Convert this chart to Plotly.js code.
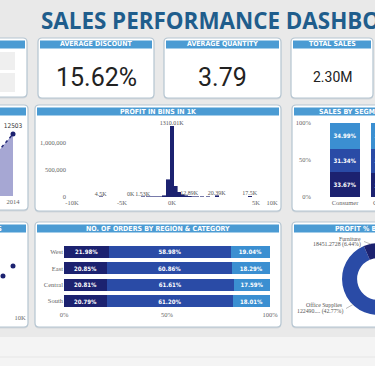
<!DOCTYPE html>
<html><head><meta charset="utf-8">
<script src="https://cdn.plot.ly/plotly-3.0.1.min.js"></script>
<style>
html,body{margin:0;padding:0;overflow:hidden;width:375px;height:366px;background:#e9e9e9}
#chart{position:absolute;left:-60px;top:0;width:535px;height:366px}
</style></head><body><div id="chart"></div>
<script>
// ---------- DATA ----------
const kpiTitles = ['AVERAGE DISCOUNT', 'AVERAGE QUANTITY', 'TOTAL SALES'];
const avgDiscount = 15.62;     // %
const avgQuantity = 3.79;
const totalSales = 2300000;

const years = [2011, 2012, 2013, 2014];
const qtyByYear = [7580, 7980, 9850, 12503];

const binCenters = [-7.1, -4.1, -2.9, -2.4, -2.0, -1.6, -1.2, -0.8, -0.4, 0, 0.35, 0.7, 1.05, 1.4, 1.75, 2.1, 2.5, 3.0, 3.6, 4.5, 7.8];
const binSales = [4500, 4, 1530, 3000, 5000, 6000, 9000, 25000, 315000, 1310010, 200000, 90000, 45000, 20000, 12890, 8000, 5000, 4000, 6000, 20390, 17500];
const binLabels = ['4.5K', '0K', '1.53K', '', '', '', '', '', '', '1310.01K', '', '', '', '', '12.89K', '', '', '', '', '20.39K', '17.5K'];
const profitTickVals = [-10, -5, 0, 8.4, 10];
const profitTickText = ['-10K', '-5K', '0K', '5K', '10K'];
const salesTickVals = [0, 500000, 1000000];
const salesTickText = ['0', '500,000', '1,000,000'];

const segments = ['Consumer', 'Corporate', 'Home Office'];
const segFurniture = [33.67, 32.43, 28.38];
const segOffice = [31.34, 32.67, 29.00];
const segTechnology = [34.99, 34.90, 42.62];

const regions = ['West', 'East', 'Central', 'South'];
const regFurniture = [21.98, 20.85, 20.81, 20.79];
const regOffice = [58.98, 60.86, 61.61, 61.20];
const regTechnology = [19.04, 18.29, 17.59, 18.01];
const pctTickVals = [0, 50, 100];
const pctTickText = ['0%', '50%', '100%'];

const scSales = [1500, 3200, 4800, 7570, 9000];
const scProfit = [1200, 2500, 1800, 3600, 4600];
const scTickVals = [0, 5000, 10000];
const scTickText = ['0K', '5K', '10K'];

const categories = ['Technology', 'Office Supplies', 'Furniture'];
const profitByCat = [145454.9481, 122490.8008, 18451.2728];

// ---------- HELPERS ----------
const W = 535, H = 366, OX = 60;
const X = px => (px + OX) / W;
const Y = py => 1 - py / H;
const NAVY = '#1c2270', ROYAL = '#2a4ba6', SKY = '#3b8fd1', HEAD = '#4b9bd3';
const tickFont = {family: 'Liberation Serif', size: 6.5, color: '#666'};

function roundRect(x0, y0, x1, y1, r, fill, lc, lw) {
  const p = `M${X(x0+r)},${Y(y0)} L${X(x1-r)},${Y(y0)} Q${X(x1)},${Y(y0)} ${X(x1)},${Y(y0+r)} L${X(x1)},${Y(y1-r)} Q${X(x1)},${Y(y1)} ${X(x1-r)},${Y(y1)} L${X(x0+r)},${Y(y1)} Q${X(x0)},${Y(y1)} ${X(x0)},${Y(y1-r)} L${X(x0)},${Y(y0+r)} Q${X(x0)},${Y(y0)} ${X(x0+r)},${Y(y0)} Z`;
  return {type: 'path', xref: 'paper', yref: 'paper', path: p, fillcolor: fill, line: {color: lc, width: lw}, layer: 'below'};
}
function rect(x0, y0, x1, y1, fill) {
  return {type: 'rect', xref: 'paper', yref: 'paper', x0: X(x0), x1: X(x1), y0: Y(y1), y1: Y(y0), fillcolor: fill, line: {width: 0}, layer: 'below'};
}
function seg(x0, y0, x1, y1, color, w) {
  return {type: 'line', xref: 'paper', yref: 'paper', x0: X(x0), x1: X(x1), y0: Y(y0), y1: Y(y1), line: {color: color, width: w}, layer: 'above'};
}
function ann(text, px, py, opts) {
  return Object.assign({text: text, x: X(px), y: Y(py), xref: 'paper', yref: 'paper', showarrow: false, xanchor: 'center', yanchor: 'middle'}, opts || {});
}
const headFont = {family: 'DejaVu Sans Condensed', size: 7, color: '#ffffff'};

// ---------- SHAPES ----------
const cards = [
  [-60, 38, 27, 97], [38, 38, 154, 98], [164, 38, 281, 98], [291, 38, 373, 98],
  [-60, 105, 28, 210], [35, 105, 281, 211], [292, 105, 470, 211],
  [-60, 222, 28, 327], [35, 222, 281, 327], [292, 222, 470, 327]
];
const shapes = [];
shapes.push(rect(-60, 337, 475, 366, '#f4f4f4'));
const sep = seg(-60, 357, 475, 357, '#e6e6e6', 1); sep.layer = 'below'; shapes.push(sep);
cards.forEach(c => shapes.push(roundRect(c[0], c[1] + 1.5, c[2], c[3] + 1.5, 4, '#d3d7db', 'rgba(0,0,0,0)', 0)));
cards.forEach(c => {
  shapes.push(roundRect(c[0], c[1], c[2], c[3], 4, '#ffffff', '#b5c5d1', 1.2));
  shapes.push(rect(c[0] + 2, c[1] + 2.5, c[2] - 2, c[1] + 10.5, HEAD));
});
// slicer boxes
shapes.push(rect(-50, 52, 15, 70, '#efefef'));
shapes.push(rect(-50, 73, 15, 92, '#efefef'));
// donut connectors
shapes.push(seg(364, 241.5, 370.5, 244, '#aaaaaa', 0.8));
shapes.push(seg(346, 308.5, 353, 304.5, '#aaaaaa', 0.8));

// ---------- ANNOTATIONS ----------
const fmtPct = v => v.toFixed(2) + '%';
const totalProfit = profitByCat.reduce((a, b) => a + b, 0);
const lblFont = {family: 'Liberation Serif', size: 5.8, color: '#555'};
const annotations = [
  ann('<b>SALES PERFORMANCE DASHBOARD</b>', 39, 20.5, {xanchor: 'left', font: {family: 'Open Sans', size: 22.4, color: '#1f5d8c'}}),
  ann('<b>' + kpiTitles[0] + '</b>', 96, 44.5, {font: headFont}),
  ann('<b>' + kpiTitles[1] + '</b>', 222, 44.5, {font: headFont}),
  ann('<b>' + kpiTitles[2] + '</b>', 332, 44.5, {font: headFont}),
  ann(avgDiscount.toFixed(2) + '%', 96.5, 77, {font: {family: 'Roboto', size: 25, color: '#222'}}),
  ann(avgQuantity.toFixed(2), 222.5, 77, {font: {family: 'Roboto', size: 25, color: '#222'}}),
  ann((totalSales / 1e6).toFixed(2) + 'M', 333, 77, {font: {family: 'Roboto', size: 14, color: '#222'}}),
  ann('<b>PROFIT IN BINS IN 1K</b>', 158, 112.5, {font: headFont}),
  ann('<b>SALES BY SEGMENT</b>', 317, 112.5, {xanchor: 'left', font: headFont}),
  ann('<b>NO. OF ORDERS BY REGION &amp; CATEGORY</b>', 158, 228.5, {font: headFont}),
  ann('<b>PROFIT % BY CATEGORY</b>', 333, 228.5, {xanchor: 'left', font: headFont}),
  ann('<b>PROFIT VS SALES</b>', 4, 228.5, {xanchor: 'right', font: headFont}),
  ann(categories[2], 363, 238.5, {xanchor: 'right', font: lblFont}),
  ann(profitByCat[2].toFixed(4) + ' (' + fmtPct(profitByCat[2] / totalProfit * 100) + ')', 363, 244.5, {xanchor: 'right', font: lblFont}),
  ann(categories[1], 345, 305, {xanchor: 'right', font: lblFont}),
  ann(Math.floor(profitByCat[1]) + '.... (' + fmtPct(profitByCat[1] / totalProfit * 100) + ')', 345, 311.5, {xanchor: 'right', font: lblFont})
];

// ---------- TRACES ----------
const inFont = {family: 'DejaVu Sans Condensed', size: 6, color: '#ffffff'};
const traces = [];
traces.push({type: 'scatter', x: years, y: qtyByYear, xaxis: 'x', yaxis: 'y', mode: 'lines+markers+text',
  fill: 'tozeroy', fillcolor: '#a6a7d3', line: {color: '#262b78', width: 1.5, dash: 'dot'},
  marker: {size: 5, color: NAVY}, text: qtyByYear.map(String), textposition: 'top center',
  textfont: {family: 'DejaVu Sans Condensed', size: 6.5, color: '#333'}, cliponaxis: false, hoverinfo: 'skip'});
traces.push({type: 'bar', x: binCenters, y: binSales, xaxis: 'x2', yaxis: 'y2', width: 0.35,
  marker: {color: NAVY, line: {color: NAVY, width: 0.6}}, text: binLabels, textposition: 'outside',
  textfont: {family: 'Liberation Serif', size: 6, color: '#555'}, constraintext: 'none', cliponaxis: false});
[[segFurniture, NAVY], [segOffice, ROYAL], [segTechnology, SKY]].forEach(d => {
  traces.push({type: 'bar', x: segments, y: d[0], xaxis: 'x3', yaxis: 'y3', width: 0.73, marker: {color: d[1]},
    text: d[0].map(fmtPct), texttemplate: '<b>%{text}</b>', textposition: 'inside', insidetextanchor: 'middle',
    textfont: inFont, constraintext: 'none'});
});
[[regFurniture, NAVY], [regOffice, ROYAL], [regTechnology, SKY]].forEach(d => {
  traces.push({type: 'bar', orientation: 'h', x: d[0], y: regions, xaxis: 'x4', yaxis: 'y4', width: 0.73, marker: {color: d[1]},
    text: d[0].map(fmtPct), texttemplate: '<b>%{text}</b>', textposition: 'inside', insidetextanchor: 'middle',
    textfont: inFont, constraintext: 'none'});
});
traces.push({type: 'scatter', mode: 'markers', x: scSales, y: scProfit, xaxis: 'x5', yaxis: 'y5',
  marker: {size: 5, color: NAVY}});
traces.push({type: 'pie', labels: categories, values: profitByCat, hole: 0.58, sort: false, direction: 'clockwise', rotation: 0,
  textinfo: 'none', marker: {colors: [SKY, ROYAL, NAVY], line: {width: 0}},
  domain: {x: [X(342), X(414)], y: [Y(315), Y(243)]}});

// ---------- LAYOUT ----------
const base = {showgrid: false, zeroline: false, showline: false, ticks: '', tickfont: tickFont, fixedrange: true};
const layout = {
  width: W, height: H, margin: {l: 0, r: 0, t: 0, b: 0}, paper_bgcolor: '#e9e9e9', plot_bgcolor: 'rgba(0,0,0,0)',
  showlegend: false, barmode: 'stack', shapes: shapes, annotations: annotations,
  xaxis: Object.assign({}, base, {domain: [X(-55), X(18)], range: [2010.87, 2014.23], anchor: 'y', tickvals: years, ticktext: years.map(String)}),
  yaxis: Object.assign({}, base, {domain: [Y(196), Y(120)], range: [6000, 13972], anchor: 'x', showticklabels: false}),
  xaxis2: Object.assign({}, base, {domain: [X(67), X(277)], range: [-10.5, 10.5], anchor: 'y2', tickvals: profitTickVals, ticktext: profitTickText}),
  yaxis2: Object.assign({}, base, {domain: [Y(197), Y(120)], range: [0, 1426000], anchor: 'x2', tickvals: salesTickVals, ticktext: salesTickText}),
  xaxis3: Object.assign({}, base, {domain: [X(312), X(470)], type: 'category', range: [-0.805, 3.05], anchor: 'y3'}),
  yaxis3: Object.assign({}, base, {domain: [Y(197), Y(123)], range: [0, 100], anchor: 'x3', tickvals: pctTickVals, ticktext: pctTickText}),
  xaxis4: Object.assign({}, base, {domain: [X(64), X(270)], range: [0, 100], anchor: 'y4', tickvals: pctTickVals, ticktext: pctTickText}),
  yaxis4: Object.assign({}, base, {domain: [Y(309.2), Y(243.8)], type: 'category', range: [3.5, -0.5], anchor: 'x4'}),
  xaxis5: Object.assign({}, base, {domain: [X(-60), X(24)], range: [-1428, 10571], anchor: 'y5', tickvals: scTickVals, ticktext: scTickText}),
  yaxis5: Object.assign({}, base, {domain: [Y(312), Y(236)], range: [0, 7600], anchor: 'x5', showticklabels: false})
};
Plotly.newPlot('chart', traces, layout, {staticPlot: true, displayModeBar: false});
</script></body></html>
